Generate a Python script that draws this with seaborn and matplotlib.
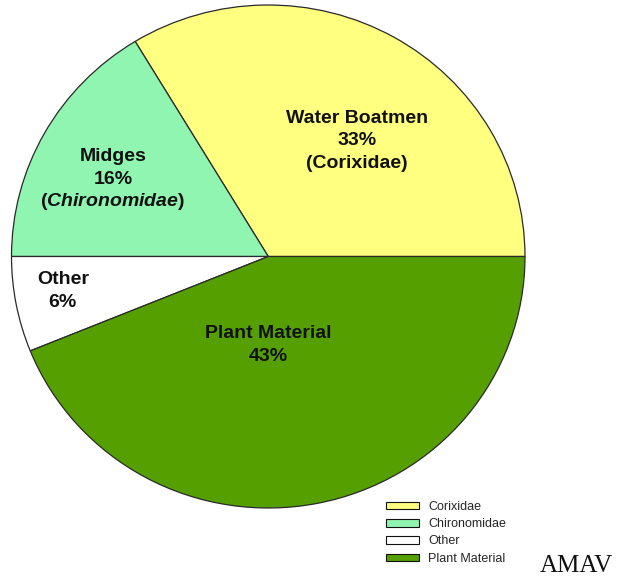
import seaborn as sns
from matplotlib import pyplot as plt
from matplotlib.patches import Patch

# diet composition
groups = ["Water Boatmen", "Midges", "Other", "Plant Material"]
families = ["Corixidae", "Chironomidae", "Other", "Plant Material"]
shares = [33, 16, 6, 43]

sns.set_theme(style="white")
plt.rcParams['font.family'] = ['Liberation Sans', 'DejaVu Sans']
plt.rcParams['mathtext.fontset'] = 'custom'
plt.rcParams['mathtext.it'] = 'Liberation Sans:italic:bold'
plt.rcParams['mathtext.rm'] = 'Liberation Sans:bold'

colors = ["#FFFF80", "#90F5B0", "#FFFFFF", "#55A000"]

W, H = 623, 578
fig = plt.figure(figsize=(W / 100, H / 100), dpi=100)
ax = fig.add_axes([11.5 / W, (H - 508) / H, 513.5 / W, 503 / H])

ax.pie(shares, colors=colors, startangle=0, counterclock=True,
       wedgeprops=dict(edgecolor="#2a2a2a", linewidth=0.9))
ax.set_aspect('auto')
ax.set_xlim(-1, 1)
ax.set_ylim(-1, 1)

labels = [
    [groups[0], "%d%%" % shares[0], "(Corixidae)"],
    [groups[1], "%d%%" % shares[1], "($\\it{Chironomidae}$)"],
    [groups[2], "%d%%" % shares[2]],
    [groups[3], "%d%%" % shares[3]],
]
label_pos = [(0.346, 0.46), (-0.605, 0.308), (-0.80, -0.137), (0.0, -0.352)]
step = 22.5
for lines, (x, y) in zip(labels, label_pos):
    n = len(lines)
    for i, line in enumerate(lines):
        ax.annotate(line, xy=(x, y), xytext=(0, (n - 1) * step / 2 - i * step),
                    textcoords="offset pixels", ha="center", va="center",
                    fontsize=14, fontweight="bold", color="#111111")

handles = [Patch(facecolor=c, edgecolor="#111111", linewidth=0.8) for c in colors]
fig.legend(handles, families, loc="upper left",
           bbox_to_anchor=(386 / W, 1 - 501 / H), frameon=False,
           fontsize=9, handlelength=2.64, handleheight=0.56,
           handletextpad=0.72, labelspacing=0.42, borderpad=0,
           borderaxespad=0)

fig.text(576 / W, 1 - 572 / H, "AMAV", ha="center", va="baseline",
         fontsize=18, family="Liberation Serif", color="#111111")

fig.savefig("out.png", dpi=100)
